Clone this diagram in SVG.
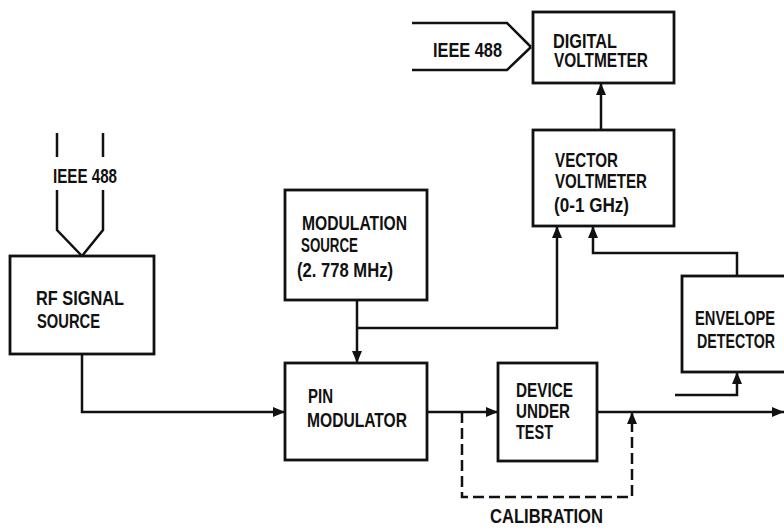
<svg xmlns="http://www.w3.org/2000/svg" width="784" height="530" viewBox="0 0 784 530">
  <style>
    .box { fill: #ffffff; stroke: #111111; stroke-width: 2.8; }
    .wire { fill: none; stroke: #111111; stroke-width: 2.5; stroke-linejoin: miter; }
    .dash { stroke-dasharray: 11 5; }
    .lbl { font-family: "Liberation Sans", Arial, sans-serif; font-weight: bold; font-size: 20px; fill: #111111; }
  </style>
  <defs>
    <marker id="arrow" markerUnits="userSpaceOnUse" markerWidth="12" markerHeight="10" refX="12" refY="5" orient="auto">
      <path d="M0,0 L12,5 L0,10 Z" fill="#111111"/>
    </marker>
  </defs>
  <rect width="784" height="530" fill="#ffffff"/>

  <!-- connectors -->
  <g id="connectors">
    <!-- IEEE 488 bus into the RF signal source -->
    <path class="wire" d="M57,133 V157 M57,190 V230 L82,256 M103,133 V157 M103,190 V230 L82,256"/>
    <!-- IEEE 488 bus into the digital voltmeter -->
    <path class="wire" d="M412,23 H507 L531,47 M412,70 H507 L531,47"/>
    <!-- RF source to PIN modulator -->
    <path class="wire" d="M82,354 V412 H285" marker-end="url(#arrow)"/>
    <!-- modulation source to PIN modulator -->
    <path class="wire" d="M357,300 V363" marker-end="url(#arrow)"/>
    <!-- modulation reference to vector voltmeter -->
    <path class="wire" d="M357,328 H557 V226" marker-end="url(#arrow)"/>
    <!-- PIN modulator to device under test -->
    <path class="wire" d="M427,412 H498" marker-end="url(#arrow)"/>
    <!-- DUT output -->
    <path class="wire" d="M597,412 H784" marker-end="url(#arrow)"/>
    <!-- calibration bypass -->
    <path class="wire dash" d="M462,412 V497 H632 V412" marker-end="url(#arrow)"/>
    <!-- envelope detector to vector voltmeter -->
    <path class="wire" d="M737,276 V253 H593 V226" marker-end="url(#arrow)"/>
    <!-- sample into envelope detector -->
    <path class="wire" d="M675,395 H737 V372" marker-end="url(#arrow)"/>
    <!-- vector voltmeter to digital voltmeter -->
    <path class="wire" d="M601,130 V83" marker-end="url(#arrow)"/>
  </g>

  <g id="ieee488-left">
    <text class="lbl" x="53" y="183" textLength="64" lengthAdjust="spacingAndGlyphs">IEEE 488</text>
  </g>
  <g id="ieee488-top">
    <text class="lbl" x="433" y="57" textLength="69" lengthAdjust="spacingAndGlyphs">IEEE 488</text>
  </g>

  <g id="rf-signal-source">
    <rect class="box" x="10" y="256" width="144" height="98"/>
    <text class="lbl" x="36" y="305" textLength="88" lengthAdjust="spacingAndGlyphs">RF SIGNAL</text>
    <text class="lbl" x="37" y="328" textLength="63" lengthAdjust="spacingAndGlyphs">SOURCE</text>
  </g>

  <g id="modulation-source">
    <rect class="box" x="285" y="190" width="142" height="110"/>
    <text class="lbl" x="302" y="230" textLength="105" lengthAdjust="spacingAndGlyphs">MODULATION</text>
    <text class="lbl" x="301" y="252" textLength="57" lengthAdjust="spacingAndGlyphs">SOURCE</text>
    <text class="lbl" x="297" y="277" textLength="96" lengthAdjust="spacingAndGlyphs">(2. 778 MHz)</text>
  </g>

  <g id="pin-modulator">
    <rect class="box" x="285" y="363" width="142" height="97"/>
    <text class="lbl" x="308" y="403" textLength="25" lengthAdjust="spacingAndGlyphs">PIN</text>
    <text class="lbl" x="307" y="427" textLength="100" lengthAdjust="spacingAndGlyphs">MODULATOR</text>
  </g>

  <g id="device-under-test">
    <rect class="box" x="498" y="363" width="99" height="98"/>
    <text class="lbl" x="516" y="397" textLength="57" lengthAdjust="spacingAndGlyphs">DEVICE</text>
    <text class="lbl" x="516" y="418" textLength="54" lengthAdjust="spacingAndGlyphs">UNDER</text>
    <text class="lbl" x="516" y="439" textLength="37" lengthAdjust="spacingAndGlyphs">TEST</text>
  </g>

  <g id="calibration">
    <text class="lbl" x="490" y="523" textLength="113" lengthAdjust="spacingAndGlyphs">CALIBRATION</text>
  </g>

  <g id="envelope-detector">
    <rect class="box" x="682" y="276" width="110" height="96"/>
    <text class="lbl" x="695" y="325" textLength="80" lengthAdjust="spacingAndGlyphs">ENVELOPE</text>
    <text class="lbl" x="697" y="348" textLength="78" lengthAdjust="spacingAndGlyphs">DETECTOR</text>
  </g>

  <g id="vector-voltmeter">
    <rect class="box" x="533" y="130" width="141" height="96"/>
    <text class="lbl" x="555" y="167" textLength="63" lengthAdjust="spacingAndGlyphs">VECTOR</text>
    <text class="lbl" x="555" y="188" textLength="92" lengthAdjust="spacingAndGlyphs">VOLTMETER</text>
    <text class="lbl" x="554" y="212" textLength="75" lengthAdjust="spacingAndGlyphs">(0-1 GHz)</text>
  </g>

  <g id="digital-voltmeter">
    <rect class="box" x="533" y="12" width="141" height="71"/>
    <text class="lbl" x="553" y="48" textLength="64" lengthAdjust="spacingAndGlyphs">DIGITAL</text>
    <text class="lbl" x="554" y="67" textLength="94" lengthAdjust="spacingAndGlyphs">VOLTMETER</text>
  </g>
</svg>
